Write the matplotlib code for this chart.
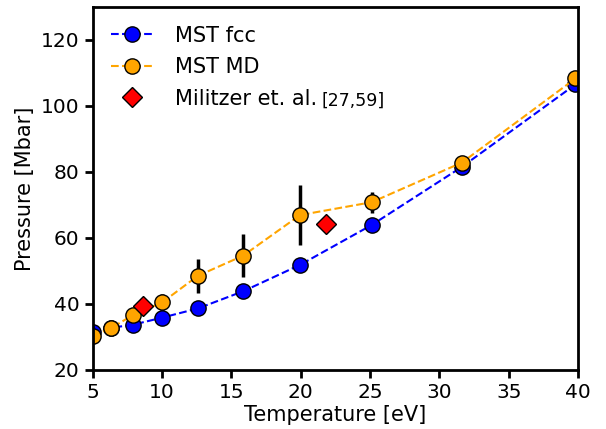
import numpy as np
import matplotlib.pyplot as plt

# Datos
temp = [5.01, 6.31, 7.94, 10.0, 12.59, 15.85, 19.95, 25.12, 31.62, 39.81]
p_fcc = [31.5, 32.7, 33.7, 35.8, 38.6, 43.8, 51.8, 63.9, 81.5, 106.5]
p_md = [30.3, 32.6, 36.7, 40.4, 48.5, 54.6, 66.9, 70.8, 82.8, 108.3]
err_md = [0, 0, 0, 2.5, 5.2, 6.6, 9.2, 3.2, 0, 0]
t_mil = [8.6, 21.8]
p_mil = [39.3, 64.3]

fig = plt.figure(figsize=(6.06, 4.29), dpi=100)
ax = fig.add_axes([0.153, 0.138, 0.801, 0.846])

ax.errorbar(temp, p_md, yerr=err_md, fmt='none', ecolor='black', elinewidth=2.5, zorder=2)
l1, = ax.plot(temp, p_fcc, '--o', color='blue', mfc='blue', mec='black', ms=11, lw=1.5,
              label='MST fcc', zorder=3)
l2, = ax.plot(temp, p_md, '--o', color='orange', mfc='orange', mec='black', ms=11, lw=1.5,
              label='MST MD', zorder=4)
l3, = ax.plot(t_mil, p_mil, 'D', color='red', mec='black', ms=10, ls='none',
              label='Militzer et. al.', zorder=5)
for l in (l1, l2, l3):
    l.set_clip_path(ax.patch)

ax.set_xlim(5, 40)
ax.set_ylim(20, 130)
ax.set_xticks([5, 10, 15, 20, 25, 30, 35, 40])
ax.set_yticks([20, 40, 60, 80, 100, 120])
ax.set_xlabel('Temperature [eV]', fontsize=15, labelpad=2)
ax.set_ylabel('Pressure [Mbar]', fontsize=15)
for s in ax.spines.values():
    s.set_linewidth(2)
    s.set_zorder(6)
ax.tick_params(width=2, length=6, labelsize=14.5)

leg = ax.legend(loc='upper left', frameon=False, fontsize=15, handlelength=2,
                handletextpad=1.05, borderaxespad=0.5, labelspacing=0.55)

# referencia en letra mas chica
fig.canvas.draw()
bb = leg.get_texts()[2].get_window_extent()
x, y = fig.transFigure.inverted().transform((bb.x1 + 4, bb.y0 + 3))
fig.text(x, y, '[27,59]', fontsize=12.5, va='baseline')

fig.savefig('out.png')
